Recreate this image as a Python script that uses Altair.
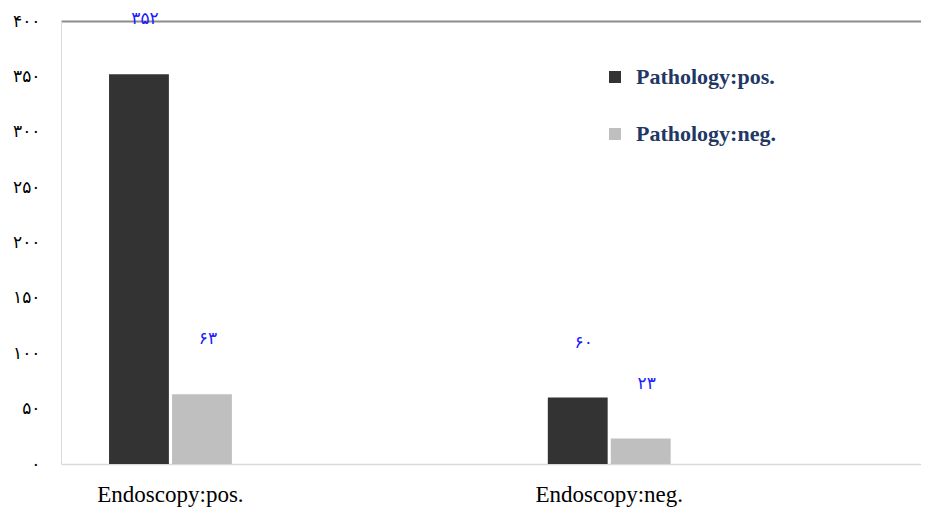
import altair as alt
import pandas as pd

categories = ["Endoscopy:pos.", "Endoscopy:neg."]
series = ["Pathology:pos.", "Pathology:neg."]
pos_values = [352, 60]
neg_values = [63, 23]
pos_labels = ["۳۵۲", "۶۰"]
neg_labels = ["۶۳", "۲۳"]
y_ticks = [0, 50, 100, 150, 200, 250, 300, 350, 400]
y_tick_labels = ["۰", "۵۰", "۱۰۰", "۱۵۰", "۲۰۰", "۲۵۰", "۳۰۰", "۳۵۰", "۴۰۰"]
colors = ["#333333", "#bfbfbf"]

rows = []
for i, c in enumerate(categories):
    rows.append({"category": c, "series": series[0], "value": pos_values[i], "label": pos_labels[i]})
    rows.append({"category": c, "series": series[1], "value": neg_values[i], "label": neg_labels[i]})
df = pd.DataFrame(rows)

label_expr = " : ".join(f"datum.value == {v} ? '{t}'" for v, t in zip(y_ticks, y_tick_labels)) + " : ''"

x = alt.X(
    "category:N", sort=categories,
    scale=alt.Scale(domain=categories, paddingInner=0.72, paddingOuter=0.34, align=0.161),
    axis=alt.Axis(title=None, labelAngle=0, ticks=False, labelFont="Liberation Serif",
                  labelFontSize=23, labelColor="black", labelPadding=19,
                  domainColor="#d9d9d9", domainWidth=1.5),
)
xo = alt.XOffset("series:N", sort=series,
                 scale=alt.Scale(domain=series, paddingInner=0.05, paddingOuter=0))
y = alt.Y(
    "value:Q",
    scale=alt.Scale(domain=[0, 400], nice=False),
    axis=alt.Axis(title=None, values=y_ticks, labelExpr=label_expr, ticks=False,
                  labelPadding=21, labelFont="DejaVu Sans", labelFontSize=17,
                  labelColor="black", domainColor="#d9d9d9", grid=True,
                  gridColor={"condition": {"test": "datum.value == 400", "value": "#8c8c8c"},
                             "value": "transparent"},
                  gridWidth=2),
)
color = alt.Color(
    "series:N", sort=series,
    scale=alt.Scale(domain=series, range=colors),
    legend=alt.Legend(title=None, orient="none", legendX=543, legendY=45, padding=0,
                      symbolType="square", symbolSize=144, symbolStrokeWidth=0,
                      labelFont="Liberation Serif", labelFontSize=22,
                      labelFontWeight="bold", labelColor="#1f3864", labelOffset=10,
                      rowPadding=35, labelLimit=400),
)

bars = alt.Chart(df).mark_bar().encode(x=x, xOffset=xo, y=y, color=color)
text = alt.Chart(df).mark_text(dy=-55, dx=6, color="#1a1aff", font="DejaVu Sans",
                               fontSize=17).encode(x=x, xOffset=xo, y=y, text="label:N")

chart = alt.layer(bars, text).properties(
    width=860, height=443,
    padding={"left": 53, "top": 13, "right": 0, "bottom": 44},
    autosize=alt.AutoSizeParams(type="none"),
).configure_view(stroke=None)

chart.save("out.html", embed_options={"renderer": "svg", "actions": False})
